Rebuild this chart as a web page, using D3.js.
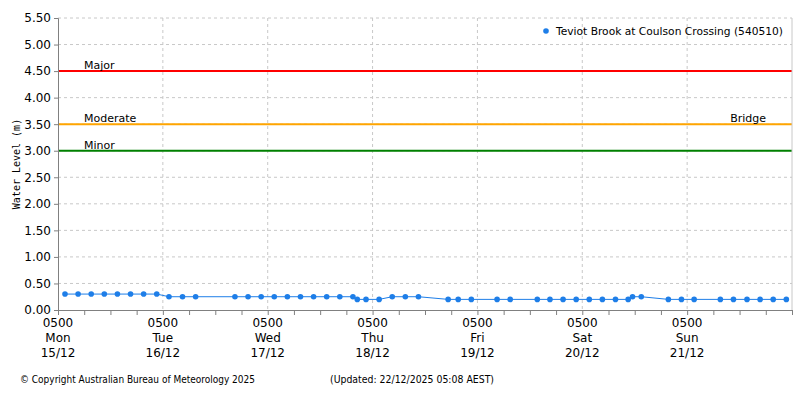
<!DOCTYPE html>
<html><head><meta charset="utf-8">
<script src="https://cdn.jsdelivr.net/npm/d3@7"></script>
<style>
body{margin:0;background:#fff;font-family:"DejaVu Sans",sans-serif;}
text{font-family:"DejaVu Sans",sans-serif;font-size:11px;fill:#000;}
</style></head>
<body><svg width="800" height="400"></svg>
<script>
// hours after 0500 Mon 15/12
var hours = [1.6,4.6,7.6,10.6,13.6,16.6,19.6,22.6,25.4,28.5,31.5,40.5,43.5,46.5,49.5,52.5,55.5,58.5,61.5,64.5,67.5,68.5,70.5,73.5,76.5,79.5,82.5,
  89.3,91.6,94.6,100.5,103.5,109.7,112.6,115.6,118.6,121.6,124.6,127.6,130.5,131.5,133.5,139.7,142.7,145.6,151.6,154.6,157.7,160.7,163.7,166.7];
var levels = [0.30,0.30,0.30,0.30,0.30,0.30,0.30,0.30,0.25,0.25,0.25,0.25,0.25,0.25,0.25,0.25,0.25,0.25,0.25,0.25,0.25,0.20,0.20,0.20,0.25,0.25,0.25,
  0.20,0.20,0.20,0.20,0.20,0.20,0.20,0.20,0.20,0.20,0.20,0.20,0.20,0.25,0.25,0.20,0.20,0.20,0.20,0.20,0.20,0.20,0.20,0.20];
var dayNames = ["Mon","Tue","Wed","Thu","Fri","Sat","Sun"];
var dayDates = ["15/12","16/12","17/12","18/12","19/12","20/12","21/12"];
var yTicks = [0,0.5,1,1.5,2,2.5,3,3.5,4,4.5,5,5.5];
var thresholds = [
  {name:"Major", value:4.5, color:"#ff0000"},
  {name:"Moderate", value:3.5, color:"#ffa500"},
  {name:"Minor", value:3.0, color:"#008000"}
];

var svg = d3.select("svg");
var x = d3.scaleLinear().domain([0,168]).range([58,792]);
var y = d3.scaleLinear().domain([0,5.5]).range([310,18]);

// grid
svg.append("g").selectAll("line").data(yTicks.slice(1)).enter().append("line")
  .attr("x1",58).attr("x2",792).attr("y1",d=>y(d)).attr("y2",d=>y(d))
  .attr("stroke","#c8c8c8").attr("stroke-dasharray","3,3");
svg.append("g").selectAll("line").data(d3.range(1,7)).enter().append("line")
  .attr("x1",d=>x(d*24)).attr("x2",d=>x(d*24)).attr("y1",18).attr("y2",310)
  .attr("stroke","#c8c8c8").attr("stroke-dasharray","3,3");

// thresholds
thresholds.forEach(function(t){
  svg.append("line").attr("x1",58).attr("x2",792).attr("y1",y(t.value)).attr("y2",y(t.value))
    .attr("stroke",t.color).attr("stroke-width",2);
  svg.append("text").attr("x",84).attr("y",y(t.value)-2).text(t.name);
});
svg.append("text").attr("x",766).attr("y",y(3.5)-2).attr("text-anchor","end").text("Bridge");

// axes
var yAxis = svg.append("g").attr("transform","translate(58,0)")
  .call(d3.axisLeft(y).tickValues(yTicks).tickFormat(d3.format(".2f")).tickSize(4));
var xAxis = svg.append("g").attr("transform","translate(0,310)")
  .call(d3.axisBottom(x).tickValues(d3.range(0,169,6)).tickFormat("").tickSize(5));
[yAxis,xAxis].forEach(function(a){
  a.selectAll("path,line").attr("stroke","#808080");
  a.selectAll("text").style("font-size","12px").attr("fill","#000");
});
svg.append("line").attr("x1",792).attr("x2",792).attr("y1",18).attr("y2",310).attr("stroke","#c8c8c8");

var lbl = svg.append("g").selectAll("text").data(d3.range(7)).enter().append("text")
  .attr("x",d=>x(d*24)).attr("text-anchor","middle").style("font-size","12px");
lbl.append("tspan").attr("x",d=>x(d*24)).attr("y",327).text("0500");
lbl.append("tspan").attr("x",d=>x(d*24)).attr("y",342).text(d=>dayNames[d]);
lbl.append("tspan").attr("x",d=>x(d*24)).attr("y",357).text(d=>dayDates[d]);

svg.append("text").attr("transform","translate(20,164) rotate(-90)").attr("text-anchor","middle")
  .style("font-family","DejaVu Sans Mono").style("font-size","10px").text("Water Level (m)");

// series
var pts = hours.map((h,i)=>({h:h,v:levels[i]}));
svg.append("path").datum(pts).attr("fill","none").attr("stroke","#1e7ee8").attr("stroke-width",1)
  .attr("d",d3.line().x(d=>x(d.h)).y(d=>y(d.v)));
svg.append("g").selectAll("circle").data(pts).enter().append("circle")
  .attr("cx",d=>x(d.h)).attr("cy",d=>y(d.v)).attr("r",2.8).attr("fill","#1e7ee8");

// legend
svg.append("circle").attr("cx",546).attr("cy",31).attr("r",2.8).attr("fill","#1e7ee8");
svg.append("text").attr("x",556).attr("y",35).style("font-size","11px")
  .attr("textLength",227).attr("lengthAdjust","spacingAndGlyphs").text("Teviot Brook at Coulson Crossing (540510)");

svg.append("text").attr("x",20).attr("y",383).style("font-size","10px")
  .attr("textLength",235).attr("lengthAdjust","spacingAndGlyphs").text("© Copyright Australian Bureau of Meteorology 2025");
svg.append("text").attr("x",330).attr("y",383).style("font-size","10px")
  .attr("textLength",164).attr("lengthAdjust","spacingAndGlyphs").text("(Updated: 22/12/2025 05:08 AEST)");
</script></body></html>
